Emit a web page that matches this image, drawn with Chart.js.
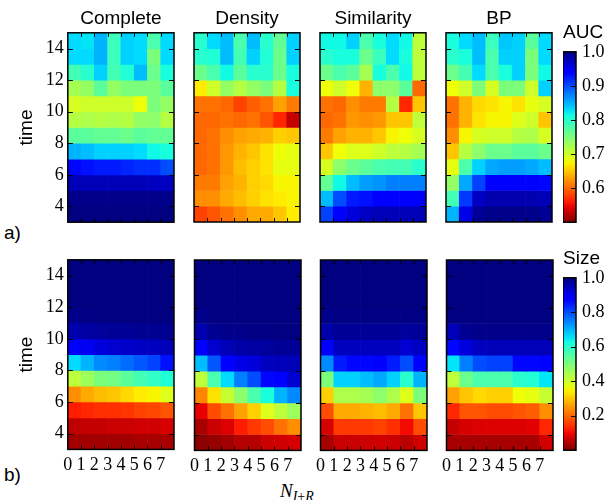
<!DOCTYPE html>
<html>
<head>
<meta charset="utf-8">
<script src="https://cdn.jsdelivr.net/npm/chart.js@4.4.1/dist/chart.umd.min.js"></script>
<style>
html, body { margin: 0; padding: 0; background: #fff; }
#fig { position: relative; width: 606px; height: 500px; overflow: hidden; }
#fig canvas { position: absolute; }
.lbl { position: absolute; font-family: "Liberation Sans", Arial, sans-serif; font-size: 19px; color: #000; line-height: 1; white-space: nowrap; }
#nlab { position: absolute; left: 280px; top: 481px; font-family: "Liberation Serif", serif; font-size: 19px; line-height: 1; white-space: nowrap; }
#nlab sub { font-size: 14px; vertical-align: -4px; }
</style>
</head>
<body>
<div id="fig">
  <div class="lbl" style="left:4px; top:223px;">a)</div>
  <div class="lbl" style="left:4px; top:465px;">b)</div>
  <div id="nlab"><i>N</i><sub><i>I</i>+<i>R</i></sub></div>
</div>
<script>
// panel titles, x categories (N_{I+R}) and time rows (top row of each grid first)
const methods = ["Complete", "Density", "Similarity", "BP"]
const nValues = [0, 1, 2, 3, 4, 5, 6, 7]
const times = [14, 13, 12, 11, 10, 9, 8, 7, 6, 5, 4, 3]
const timeTicks = [4, 6, 8, 10, 12, 14]
const aucTicks = [0.6, 0.7, 0.8, 0.9, 1.0]
const sizeTicks = [0.2, 0.4, 0.6, 0.8, 1.0]

// a) AUC, rows = times (14 -> 3), cols = nValues
const aucComplete = [
  [0.83, 0.825, 0.85, 0.79, 0.835, 0.83, 0.78, 0.83],
  [0.83, 0.83, 0.85, 0.79, 0.835, 0.83, 0.75, 0.83],
  [0.785, 0.8, 0.835, 0.785, 0.805, 0.845, 0.76, 0.81],
  [0.725, 0.735, 0.77, 0.735, 0.75, 0.75, 0.75, 0.77],
  [0.695, 0.7, 0.7, 0.7, 0.7, 0.68, 0.75, 0.735],
  [0.715, 0.72, 0.715, 0.72, 0.715, 0.735, 0.74, 0.715],
  [0.77, 0.77, 0.765, 0.765, 0.76, 0.77, 0.765, 0.765],
  [0.85, 0.845, 0.835, 0.835, 0.835, 0.83, 0.815, 0.81],
  [0.935, 0.93, 0.925, 0.925, 0.92, 0.915, 0.915, 0.9],
  [0.975, 0.975, 0.975, 0.975, 0.975, 0.975, 0.972, 0.972],
  [0.995, 0.995, 0.995, 0.995, 0.995, 0.995, 0.995, 0.995],
  [1.0, 1.0, 1.0, 1.0, 1.0, 1.0, 1.0, 1.0]
]
const aucDensity = [
  [0.8, 0.83, 0.845, 0.78, 0.845, 0.8, 0.765, 0.835],
  [0.8, 0.805, 0.845, 0.785, 0.835, 0.805, 0.76, 0.835],
  [0.76, 0.78, 0.815, 0.77, 0.8, 0.8, 0.76, 0.81],
  [0.67, 0.7, 0.735, 0.715, 0.735, 0.75, 0.715, 0.81],
  [0.605, 0.605, 0.6, 0.58, 0.595, 0.605, 0.63, 0.61],
  [0.6, 0.6, 0.605, 0.6, 0.605, 0.59, 0.565, 0.53],
  [0.6, 0.605, 0.62, 0.63, 0.635, 0.64, 0.655, 0.65],
  [0.6, 0.605, 0.625, 0.64, 0.65, 0.665, 0.68, 0.685],
  [0.6, 0.605, 0.625, 0.645, 0.655, 0.665, 0.685, 0.685],
  [0.61, 0.61, 0.63, 0.64, 0.655, 0.66, 0.675, 0.675],
  [0.62, 0.62, 0.635, 0.645, 0.655, 0.665, 0.67, 0.675],
  [0.58, 0.59, 0.605, 0.62, 0.635, 0.635, 0.65, 0.67]
]
const aucSimilarity = [
  [0.815, 0.815, 0.835, 0.78, 0.81, 0.83, 0.815, 0.71],
  [0.8, 0.81, 0.81, 0.76, 0.79, 0.83, 0.81, 0.71],
  [0.76, 0.78, 0.77, 0.725, 0.81, 0.78, 0.815, 0.71],
  [0.68, 0.7, 0.68, 0.64, 0.74, 0.74, 0.77, 0.6],
  [0.605, 0.6, 0.62, 0.61, 0.61, 0.715, 0.565, 0.65],
  [0.6, 0.605, 0.625, 0.62, 0.625, 0.65, 0.65, 0.71],
  [0.61, 0.63, 0.64, 0.64, 0.65, 0.675, 0.68, 0.695],
  [0.65, 0.68, 0.69, 0.69, 0.7, 0.71, 0.715, 0.725],
  [0.695, 0.74, 0.76, 0.77, 0.78, 0.785, 0.785, 0.8],
  [0.765, 0.815, 0.845, 0.86, 0.865, 0.875, 0.875, 0.875],
  [0.845, 0.9, 0.925, 0.93, 0.94, 0.94, 0.94, 0.94],
  [0.905, 0.94, 0.96, 0.97, 0.975, 0.975, 0.975, 0.975]
]
const aucBP = [
  [0.81, 0.83, 0.845, 0.79, 0.84, 0.835, 0.77, 0.83],
  [0.8, 0.81, 0.845, 0.78, 0.835, 0.835, 0.75, 0.83],
  [0.76, 0.785, 0.83, 0.78, 0.81, 0.835, 0.75, 0.815],
  [0.68, 0.7, 0.75, 0.695, 0.75, 0.75, 0.7, 0.835],
  [0.605, 0.64, 0.66, 0.665, 0.675, 0.665, 0.685, 0.695],
  [0.605, 0.64, 0.665, 0.675, 0.675, 0.69, 0.7, 0.65],
  [0.62, 0.675, 0.695, 0.7, 0.7, 0.715, 0.72, 0.695],
  [0.65, 0.715, 0.74, 0.76, 0.76, 0.77, 0.77, 0.76],
  [0.685, 0.78, 0.835, 0.855, 0.86, 0.86, 0.855, 0.845],
  [0.735, 0.855, 0.905, 0.94, 0.94, 0.94, 0.94, 0.935],
  [0.785, 0.91, 0.97, 0.98, 0.98, 0.98, 0.98, 0.975],
  [0.85, 0.955, 0.99, 0.995, 0.995, 0.995, 0.995, 0.99]
]

// b) Size
const sizeComplete = [
  [1, 1, 1, 1, 1, 1, 1, 1],
  [1, 1, 1, 1, 1, 1, 1, 1],
  [1, 1, 1, 1, 1, 1, 1, 1],
  [0.99, 0.995, 1, 1, 1, 1, 1, 1],
  [0.96, 0.97, 0.975, 0.98, 0.98, 0.985, 0.985, 0.985],
  [0.88, 0.9, 0.92, 0.93, 0.935, 0.94, 0.945, 0.95],
  [0.66, 0.7, 0.74, 0.75, 0.77, 0.79, 0.81, 0.86],
  [0.42, 0.46, 0.5, 0.51, 0.54, 0.57, 0.59, 0.61],
  [0.24, 0.27, 0.29, 0.3, 0.32, 0.34, 0.35, 0.38],
  [0.12, 0.13, 0.14, 0.14, 0.145, 0.16, 0.165, 0.18],
  [0.055, 0.06, 0.06, 0.065, 0.065, 0.07, 0.07, 0.075],
  [0.03, 0.03, 0.03, 0.03, 0.03, 0.035, 0.035, 0.035]
]
const sizeDensity = [
  [1, 1, 1, 1, 1, 1, 1, 1],
  [1, 1, 1, 1, 1, 1, 1, 1],
  [1, 1, 1, 1, 1, 1, 1, 1],
  [0.99, 1, 1, 1, 1, 1, 1, 1],
  [0.96, 0.985, 0.99, 0.99, 0.995, 0.995, 1, 1],
  [0.89, 0.93, 0.955, 0.965, 0.97, 0.975, 0.98, 0.98],
  [0.69, 0.79, 0.88, 0.91, 0.92, 0.945, 0.95, 0.955],
  [0.42, 0.56, 0.66, 0.75, 0.8, 0.87, 0.89, 0.93],
  [0.23, 0.33, 0.41, 0.48, 0.56, 0.62, 0.7, 0.74],
  [0.09, 0.17, 0.21, 0.26, 0.31, 0.38, 0.42, 0.46],
  [0.035, 0.065, 0.08, 0.12, 0.15, 0.17, 0.21, 0.24],
  [0.01, 0.02, 0.03, 0.045, 0.045, 0.065, 0.07, 0.075]
]
const sizeSimilarity = [
  [1, 1, 1, 1, 1, 1, 1, 1],
  [1, 1, 1, 1, 1, 1, 1, 1],
  [1, 1, 1, 1, 1, 1, 1, 1],
  [0.99, 0.995, 0.995, 0.995, 0.995, 0.995, 0.995, 0.995],
  [0.965, 0.98, 0.98, 0.98, 0.98, 0.98, 0.975, 0.98],
  [0.89, 0.945, 0.945, 0.945, 0.945, 0.945, 0.93, 0.94],
  [0.74, 0.85, 0.87, 0.87, 0.88, 0.85, 0.8, 0.88],
  [0.5, 0.67, 0.67, 0.69, 0.71, 0.67, 0.6, 0.7],
  [0.31, 0.44, 0.44, 0.45, 0.48, 0.44, 0.38, 0.5],
  [0.17, 0.27, 0.27, 0.28, 0.29, 0.27, 0.21, 0.3],
  [0.075, 0.15, 0.15, 0.15, 0.16, 0.14, 0.1, 0.17],
  [0.035, 0.065, 0.065, 0.065, 0.07, 0.065, 0.05, 0.07]
]
const sizeBP = [
  [1, 1, 1, 1, 1, 1, 1, 1],
  [1, 1, 1, 1, 1, 1, 1, 1],
  [1, 1, 1, 1, 1, 1, 1, 1],
  [1, 1, 1, 1, 1, 1, 1, 1],
  [0.95, 0.985, 0.99, 0.99, 0.99, 0.99, 0.99, 0.99],
  [0.87, 0.92, 0.945, 0.95, 0.95, 0.95, 0.95, 0.95],
  [0.65, 0.75, 0.8, 0.81, 0.81, 0.87, 0.87, 0.88],
  [0.42, 0.52, 0.56, 0.56, 0.56, 0.6, 0.61, 0.65],
  [0.26, 0.3, 0.32, 0.31, 0.31, 0.36, 0.37, 0.41],
  [0.13, 0.18, 0.18, 0.17, 0.17, 0.18, 0.19, 0.24],
  [0.06, 0.075, 0.08, 0.08, 0.08, 0.08, 0.085, 0.13],
  [0.035, 0.035, 0.035, 0.035, 0.035, 0.035, 0.035, 0.07]
]

const aucPanels = [aucComplete, aucDensity, aucSimilarity, aucBP]
const sizePanels = [sizeComplete, sizeDensity, sizeSimilarity, sizeBP]

const SANS = "'Liberation Sans', Arial, sans-serif"
const SERIF = "'Liberation Serif', 'Times New Roman', serif"

// matplotlib jet, reversed (low = dark red, high = navy)
const jet = {
  r: [[0, 0], [0.35, 0], [0.66, 1], [0.89, 1], [1, 0.5]],
  g: [[0, 0], [0.125, 0], [0.375, 1], [0.64, 1], [0.91, 0], [1, 0]],
  b: [[0, 0.5], [0.11, 1], [0.34, 1], [0.65, 0], [1, 0]]
}
function seg(pts, u) {
  for (let i = 1; i < pts.length; i++) {
    if (u <= pts[i][0]) {
      const [x0, y0] = pts[i - 1], [x1, y1] = pts[i]
      return y0 + (y1 - y0) * (u - x0) / (x1 - x0)
    }
  }
  return pts[pts.length - 1][1]
}
function jetR(n) {
  const u = 1 - Math.min(1, Math.max(0, n))
  const c = k => Math.round(255 * seg(jet[k], u))
  return "rgb(" + c("r") + "," + c("g") + "," + c("b") + ")"
}

// frame + inward tick marks
const framePlugin = {
  id: "frame",
  afterDatasetsDraw(chart, args, opts) {
    const ctx = chart.ctx, a = chart.chartArea
    const xs = chart.scales.x, ys = chart.scales.y
    ctx.save()
    ctx.strokeStyle = "#000"
    ctx.lineWidth = 1
    const tick = (x0, y0, x1, y1) => { ctx.beginPath(); ctx.moveTo(x0, y0); ctx.lineTo(x1, y1); ctx.stroke() }
    for (const v of (opts.xMarks || [])) {
      const px = Math.round(xs.getPixelForValue(v)) + 0.5
      tick(px, a.top, px, a.top + 4)
      tick(px, a.bottom, px, a.bottom - 4)
    }
    for (const v of (opts.yMarks || [])) {
      const py = Math.round(ys.getPixelForValue(v)) + 0.5
      if (!opts.rightOnly) tick(a.left, py, a.left + 5, py)
      tick(a.right, py, a.right - 5, py)
    }
    ctx.lineWidth = 1.5
    ctx.strokeRect(a.left, a.top, a.right - a.left, a.bottom - a.top)
    ctx.restore()
  }
}

const base = {
  responsive: false, maintainAspectRatio: false, animation: false,
  devicePixelRatio: 1, events: []
}
const noGrid = {display: false, drawTicks: false}

function panelConfig(values, lo, hi, col, bottomRow, title) {
  const datasets = times.map((t, r) => ({
    data: nValues.map(n => ({x: n + 0.5, y: [t, t + 1]})),
    backgroundColor: values[r].map(v => jetR((v - lo) / (hi - lo))),
    borderWidth: 0, barPercentage: 1, categoryPercentage: 1, grouped: false
  }))
  return {
    type: "bar",
    data: {datasets: datasets},
    options: Object.assign({}, base, {
      layout: {padding: {top: 2, right: 4, left: 2, bottom: 2}},
      plugins: {
        legend: {display: false}, tooltip: {enabled: false},
        frame: {xMarks: [1, 2, 3, 4, 5, 6, 7], yMarks: timeTicks}
      },
      scales: {
        x: {type: "linear", min: 0, max: 8, offset: false,
          grid: noGrid, border: {display: false},
          afterBuildTicks: s => { s.ticks = nValues.map(v => ({value: v})) },
          ticks: {display: bottomRow, autoSkip: false, maxRotation: 0, padding: 5, color: "#000",
            font: {family: SERIF, size: 18}}},
        xTop: {type: "linear", position: "top", min: 0, max: 8, display: !!title,
          grid: noGrid, border: {display: false}, ticks: {display: false},
          title: {display: !!title, text: title, color: "#000",
            font: {family: SANS, size: 19}, padding: {top: 0, bottom: 3}}},
        y: {type: "linear", min: 3, max: 15, stacked: false,
          grid: noGrid, border: {display: false},
          afterBuildTicks: s => { s.ticks = timeTicks.map(v => ({value: v})) },
          ticks: {display: col === 0, padding: 4, color: "#000", font: {family: SERIF, size: 18}},
          title: {display: col === 0, text: "time", color: "#000",
            font: {family: SANS, size: 19}, padding: {top: 0, bottom: 4}}}
      }
    }),
    plugins: [framePlugin]
  }
}

function colorbarConfig(title, lo, hi, ticks) {
  const grad = ctx => {
    const chart = ctx.chart, ys = chart.scales.y
    if (!chart.chartArea || !ys) return "#888"
    const g = chart.ctx.createLinearGradient(0, ys.getPixelForValue(lo), 0, ys.getPixelForValue(hi))
    for (let i = 0; i <= 32; i++) g.addColorStop(i / 32, jetR(i / 32))
    return g
  }
  return {
    type: "bar",
    data: {labels: [title], datasets: [{data: [[lo, hi]], backgroundColor: grad,
      borderWidth: 0, barPercentage: 1, categoryPercentage: 1}]},
    options: Object.assign({}, base, {
      layout: {padding: {top: 2, right: 2, left: 0, bottom: 2}},
      plugins: {
        legend: {display: false}, tooltip: {enabled: false},
        title: {display: true, text: title, align: "start", color: "#000",
          font: {family: SANS, size: 19, weight: "normal"}, padding: {top: 0, bottom: 8}},
        frame: {yMarks: ticks.slice(0, -1), rightOnly: true}
      },
      scales: {
        x: {display: false},
        y: {position: "right", min: lo, max: hi,
          grid: noGrid, border: {display: false},
          afterBuildTicks: s => { s.ticks = ticks.map(v => ({value: v})) },
          afterFit: s => { s.width = 32 },
          ticks: {padding: 6, color: "#000", font: {family: SERIF, size: 18},
            callback: v => Number(v).toFixed(1)}}
      }
    }),
    plugins: [framePlugin]
  }
}

const fig = document.getElementById("fig")

// build a chart, then resize / move its canvas so the plot area lands on box
function mount(makeConfig, box) {
  const canvas = document.createElement("canvas")
  fig.appendChild(canvas)
  canvas.width = box.w + 120
  canvas.height = box.h + 90
  let chart = new Chart(canvas, makeConfig())
  let a = chart.chartArea
  const w = Math.round(canvas.width + box.w - (a.right - a.left))
  const h = Math.round(canvas.height + box.h - (a.bottom - a.top))
  chart.destroy()
  canvas.width = w
  canvas.height = h
  chart = new Chart(canvas, makeConfig())
  a = chart.chartArea
  canvas.style.left = Math.round(box.x - a.left) + "px"
  canvas.style.top = Math.round(box.y - a.top) + "px"
  return chart
}

const panelX = [68, 194, 320, 446]
methods.forEach((m, i) => {
  mount(() => panelConfig(aucPanels[i], 0.5, 1.0, i, false, m), {x: panelX[i], y: 33, w: 106, h: 189})
  mount(() => panelConfig(sizePanels[i], 0, 1, i, true, ""), {x: panelX[i], y: 260, w: 106, h: 190})
})
mount(() => colorbarConfig("AUC", 0.5, 1.0, aucTicks), {x: 563, y: 52, w: 13, h: 170})
mount(() => colorbarConfig("Size", 0, 1, sizeTicks), {x: 563, y: 278, w: 13, h: 172})
</script>
</body>
</html>
